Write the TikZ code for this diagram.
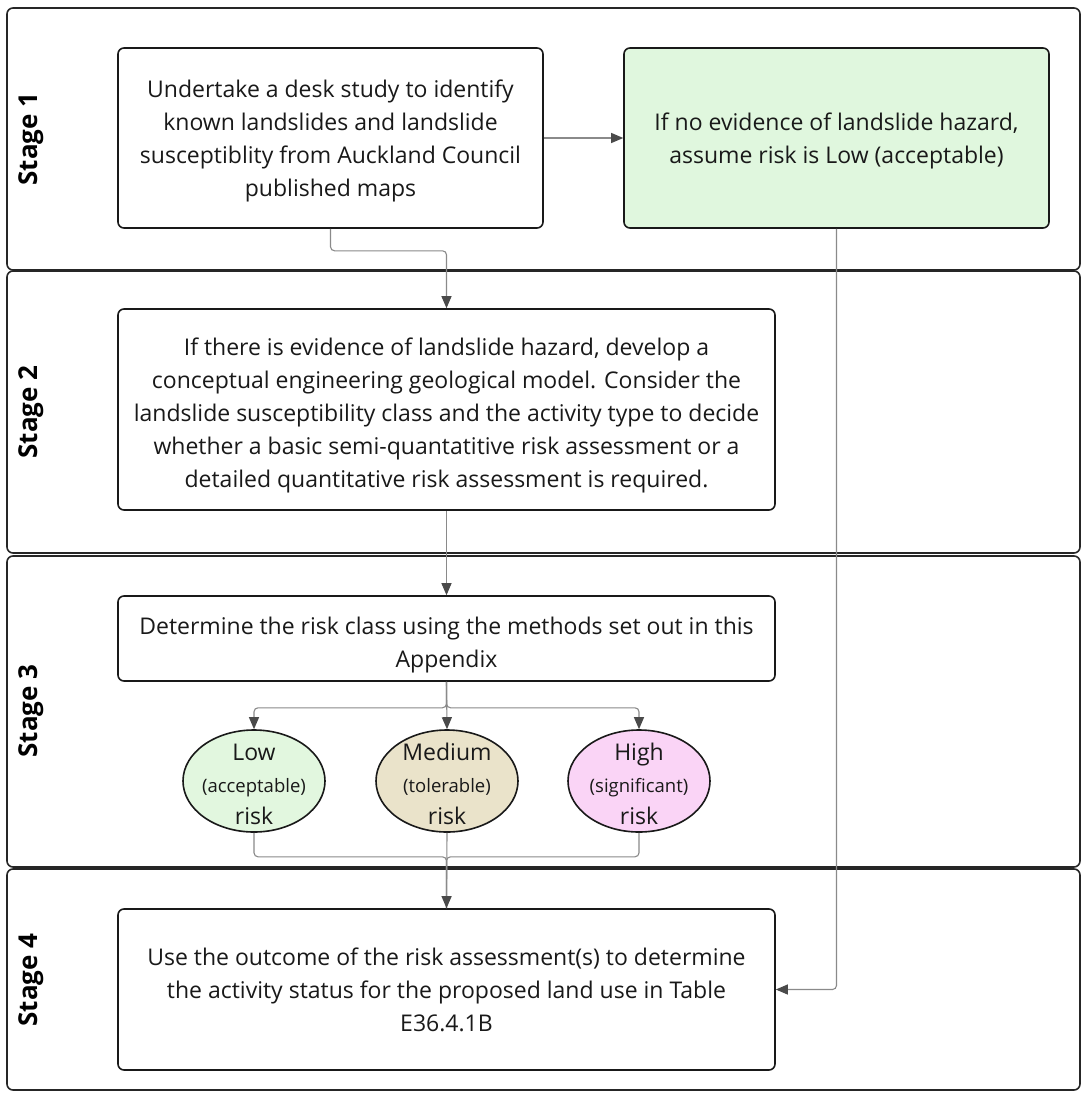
\documentclass[tikz,border=0pt]{standalone}
\usepackage{fontspec}
\setmainfont{Open Sans}
\usetikzlibrary{arrows.meta,shapes.geometric}
\definecolor{lowfill}{HTML}{E2F7DF}
\definecolor{medfill}{HTML}{EAE3CA}
\definecolor{highfill}{HTML}{FAD4F6}
\definecolor{greenbox}{HTML}{E0F7DE}
\definecolor{connc}{HTML}{8A8A8A}
\definecolor{tipc}{HTML}{4A4A4A}
\newcommand\risksmall{\fontsize{18.5}{32}\selectfont}
\begin{document}
\begin{tikzpicture}[x=1pt,y=-1pt,
  lane/.style={draw=black!85, line width=1.6pt, rounded corners=6pt, inner sep=0pt},
  stagelbl/.style={rotate=90, font=\fontsize{26}{30}\selectfont\bfseries, inner sep=0pt},
  box/.style={draw=black!90, line width=1.6pt, rounded corners=6pt, inner sep=0pt},
  boxtxt/.style={align=center, inner sep=0pt, font=\fontsize{23}{33}\selectfont, text=black!90},
  risk/.style={ellipse, draw=black!90, line width=1.6pt, minimum width=142pt, minimum height=102pt,
     inner sep=0pt},
  risktxt/.style={align=center, inner sep=0pt, font=\fontsize{23}{32}\selectfont, text=black!90},
  conn/.style={draw=connc, line width=1.1pt, rounded corners=4pt, -{Triangle[length=12pt,width=10pt,color=tipc]}},
  line/.style={draw=connc, line width=1.1pt, rounded corners=4pt}
]
\useasboundingbox (0,0) rectangle (1091,1097);
\fill[white] (0,0) rectangle (1091,1097);

% lanes
\node[lane, minimum width=1073pt, minimum height=262pt] (lane1) at (543.5,139) {};
\node[lane, minimum width=1073pt, minimum height=282pt] (lane2) at (543.5,412) {};
\node[lane, minimum width=1073pt, minimum height=311pt] (lane3) at (543.5,711.5) {};
\node[lane, minimum width=1073pt, minimum height=221pt] (lane4) at (543.5,979.5) {};

\node[stagelbl] (s1) at (31,139) {Stage 1};
\node[stagelbl] (s2) at (31,412) {Stage 2};
\node[stagelbl] (s3) at (31,711) {Stage 3};
\node[stagelbl] (s4) at (31,980) {Stage 4};

% boxes
\node[box, minimum width=425pt, minimum height=180pt] (b1) at (330.5,138) {};
\node[box, fill=greenbox, minimum width=425pt, minimum height=180pt] (g) at (836.5,138) {};
\node[box, minimum width=657pt, minimum height=201pt] (b2) at (446.5,409.5) {};
\node[box, minimum width=657pt, minimum height=85pt] (b3) at (446.5,638.5) {};
\node[box, minimum width=657pt, minimum height=161pt] (b4) at (446.5,989.5) {};

\node[boxtxt] (b1t) at ([yshift=-2.5pt]b1.center)
 {Undertake a desk study to identify\\known landslides and landslide\\susceptiblity from Auckland Council\\published maps};
\node[boxtxt] (gt) at ([yshift=-2.5pt]g.center)
 {If no evidence of landslide hazard,\\assume risk is Low (acceptable)};
\node[boxtxt] (b2t) at ([yshift=-6pt]b2.center)
 {If there is evidence of landslide hazard, develop a\\conceptual engineering geological model. Consider the\\landslide susceptibility class and the activity type to decide\\whether a basic semi-quantatitive risk assessment or a\\detailed quantitative risk assessment is required.};
\node[boxtxt] (b3t) at ([yshift=-7pt]b3.center)
 {Determine the risk class using the methods set out in this\\Appendix};
\node[boxtxt] (b4t) at (b4.center)
 {Use the outcome of the risk assessment(s) to determine\\the activity status for the proposed land use in Table\\E36.4.1B};

% risk ellipses
\node[risk, fill=lowfill] (low) at (254,781) {};
\node[risk, fill=medfill] (med) at (447,781) {};
\node[risk, fill=highfill] (high) at (639,781) {};
\node[risktxt] (lowt) at ([yshift=-3pt]low.center) {Low\\{\risksmall (acceptable)}\\risk};
\node[risktxt] (medt) at ([yshift=-3pt]med.center) {Medium\\{\risksmall (tolerable)}\\risk};
\node[risktxt] (hight) at ([yshift=-3pt]high.center) {High\\{\risksmall (significant)}\\risk};

% connectors
\draw[conn] (b1.east) -- (g.west);
\draw[conn] (b1.south) -- ++(0,22) -| (b2.north);
\draw[conn] (b2.south) -- (b3.north);
\draw[conn] (b3.south) -- ++(0,26) -| (low.north);
\draw[conn] (b3.south) -- (med.north);
\draw[conn] (b3.south) -- ++(0,26) -| (high.north);
\draw[line] (low.south) -- ++(0,24) -| (b4.north);
\draw[line] (high.south) -- ++(0,24) -| (b4.north);
\draw[conn] (med.south) -- (b4.north);
\draw[conn] (g.south) |- (b4.east);
\end{tikzpicture}
\end{document}
